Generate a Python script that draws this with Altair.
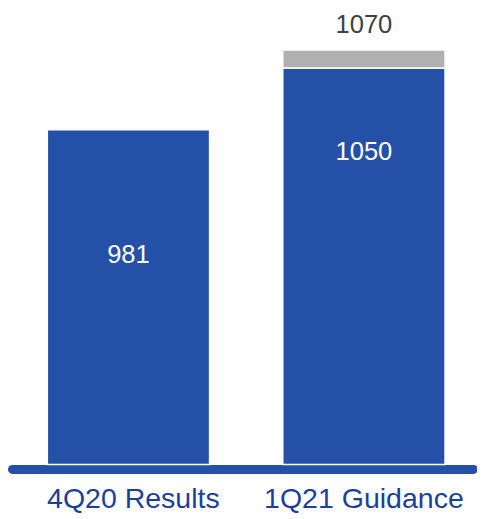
import altair as alt
import pandas as pd

# ---- data ----
categories = ["4Q20 Results", "1Q21 Guidance"]
base_values = [981, 1050]          # blue bars
guidance_high = 1070               # top of guidance range (grey segment)
Y_MIN, Y_MAX = 608, 1112           # visible value window of the y scale

BLUE = "#2450A7"
GREY = "#B0B0B0"
LABEL_BLUE = "#1C3F99"
FONT = "Liberation Sans"

bars = pd.DataFrame({
    "cat": [categories[0], categories[1], categories[1]],
    "start": [Y_MIN, Y_MIN, base_values[1]],
    "end": [base_values[0], base_values[1], guidance_high],
    "kind": ["base", "base", "range"],
})

x_enc = alt.X(
    "cat:N", sort=categories,
    scale=alt.Scale(paddingInner=0.311, paddingOuter=0.1347, align=0.558),
    axis=alt.Axis(
        title=None, labelAngle=0, ticks=False, tickSize=0,
        labelPadding=16.5, labelFontSize=29, labelFont=FONT,
        labelColor=LABEL_BLUE, labelLimit=400,
        labelOffset=alt.condition(f"datum.value == '{categories[0]}'", alt.value(5), alt.value(0)),
        domainColor=BLUE, domainWidth=9, domainCap="round", offset=4.5,
        grid=False,
    ),
)
y_scale = alt.Scale(domain=[Y_MIN, Y_MAX], zero=False, nice=False)

base = alt.Chart(bars)

bar_layer = base.mark_bar(stroke="white", strokeWidth=1.5).encode(
    x=x_enc,
    y=alt.Y("end:Q", scale=y_scale, axis=None),
    y2="start:Q",
    color=alt.Color("kind:N", scale=alt.Scale(domain=["base", "range"], range=[BLUE, GREY]), legend=None),
)

txt_common = dict(fontSize=26, font=FONT, baseline="alphabetic", align="center")

lab1 = base.transform_filter(
    (alt.datum.kind == "base") & (alt.datum.cat == categories[0])
).mark_text(color="white", dy=135.7, **txt_common).encode(
    x=alt.X("cat:N", sort=categories), y=alt.Y("end:Q", scale=y_scale), text="end:Q"
)
lab2 = base.transform_filter(
    (alt.datum.kind == "base") & (alt.datum.cat == categories[1])
).mark_text(color="white", dy=93.7, **txt_common).encode(
    x=alt.X("cat:N", sort=categories), y=alt.Y("end:Q", scale=y_scale), text="end:Q"
)
lab3 = base.transform_filter(alt.datum.kind == "range").mark_text(
    color="#404040", dy=-17.3, **txt_common
).encode(
    x=alt.X("cat:N", sort=categories), y=alt.Y("end:Q", scale=y_scale), text="end:Q"
)

chart = alt.layer(bar_layer, lab1, lab2, lab3).properties(
    width=469, height=460,
    autosize=alt.AutoSizeParams(type="none"),
    padding={"left": 4, "top": 0, "right": 4, "bottom": 50},
).configure(background="white").configure_view(stroke=None, strokeWidth=0)

chart.save("out.html", embed_options={"renderer": "svg", "actions": False})
